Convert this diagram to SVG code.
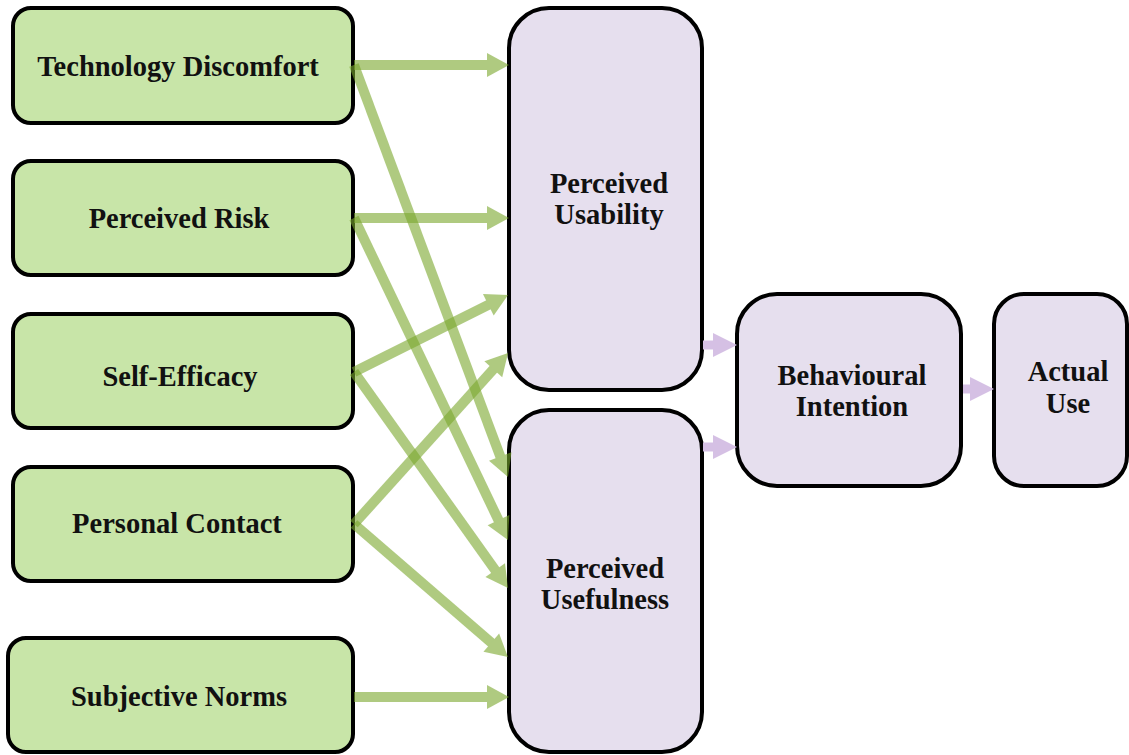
<svg xmlns="http://www.w3.org/2000/svg" width="1129" height="755" viewBox="0 0 1129 755">
<style>
.g{fill:#C8E5A8;stroke:#000;stroke-width:4}
.p{fill:#E6DFEE;stroke:#000;stroke-width:4}
text{font-family:"Liberation Serif","Times New Roman",serif;font-weight:bold;font-size:28.5px;fill:#111;text-anchor:middle}
.ga{stroke:#7BA82D;stroke-width:10;fill:none;opacity:0.6;marker-end:url(#gh)}
.pa{stroke:#D5C0E4;stroke-width:9;fill:none;marker-end:url(#ph)}
</style>
<defs>
<marker id="gh" markerUnits="userSpaceOnUse" markerWidth="24" markerHeight="26" refX="7" refY="12" orient="auto" overflow="visible">
<path d="M0,0 L22,12 L0,24 z" fill="#7BA82D"/>
</marker>
<marker id="ph" markerUnits="userSpaceOnUse" markerWidth="26" markerHeight="26" refX="8" refY="12" orient="auto" overflow="visible">
<path d="M0,0 L24,12 L0,24 z" fill="#D5C0E4"/>
</marker>
</defs>
<g id="n-td"><rect class="g" x="13" y="8" width="340" height="115" rx="18"/><text x="178" y="76">Technology Discomfort</text></g>
<g id="n-pr"><rect class="g" x="13" y="161" width="340" height="114" rx="18"/><text x="179" y="228">Perceived Risk</text></g>
<g id="n-se"><rect class="g" x="13" y="314" width="340" height="114" rx="18"/><text x="180" y="386">Self-Efficacy</text></g>
<g id="n-pc"><rect class="g" x="13" y="467" width="340" height="114" rx="18"/><text x="177" y="533">Personal Contact</text></g>
<g id="n-sn"><rect class="g" x="8" y="638" width="345" height="114" rx="18"/><text x="179" y="706">Subjective Norms</text></g>
<g id="n-pu"><rect class="p" x="509" y="8" width="193" height="382" rx="40"/><text x="609" y="193">Perceived</text><text x="609" y="224">Usability</text></g>
<g id="n-puse"><rect class="p" x="509" y="410" width="193" height="342" rx="40"/><text x="605" y="578">Perceived</text><text x="605" y="609">Usefulness</text></g>
<g id="n-bi"><rect class="p" x="737" y="294" width="224" height="192" rx="40"/><text x="852" y="385">Behavioural</text><text x="852" y="416">Intention</text></g>
<g id="n-au"><rect class="p" x="994" y="294" width="133" height="192" rx="30"/><text x="1068" y="381">Actual</text><text x="1068" y="413">Use</text></g>
<g id="connectors">
<path class="ga" d="M354,65 L494,65"/>
<path class="ga" d="M354,65 L502.7,463"/>
<path class="ga" d="M354,218 L494,218"/>
<path class="ga" d="M354,218 L501.5,526.5"/>
<path class="ga" d="M354,372 L494.6,301.7"/>
<path class="ga" d="M354,372 L499.3,575.8"/>
<path class="ga" d="M354,524 L498,364.1"/>
<path class="ga" d="M354,524 L496.6,647.2"/>
<path class="ga" d="M354,697 L494,697"/>
<path class="pa" d="M703,345 L721,345"/>
<path class="pa" d="M703,447 L721,447"/>
<path class="pa" d="M963,389 L978,389"/>
</g>
</svg>
